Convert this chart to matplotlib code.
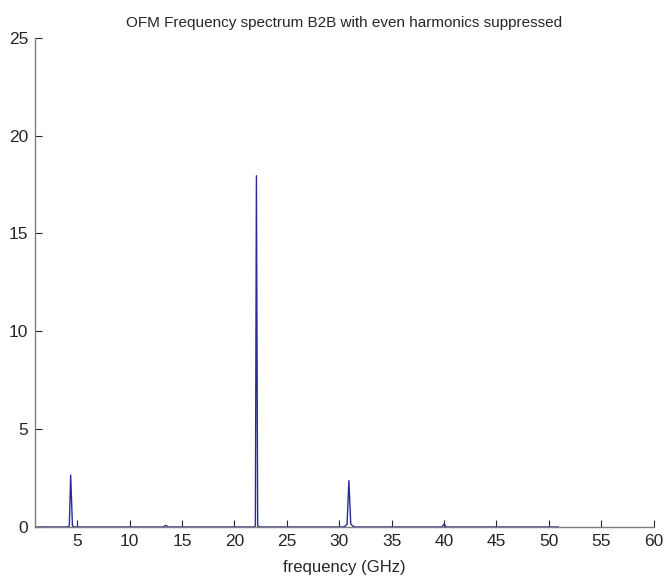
#!/usr/bin/env python3
"""OFM frequency spectrum (B2B, even harmonics suppressed) - redraw."""
import matplotlib
matplotlib.use('Agg')
import matplotlib.pyplot as plt

# spectrum samples (GHz, linear power)
freq = [1.0, 4.05, 4.25, 4.38, 4.55, 4.75, 13.2, 13.45, 13.7,
        21.85, 22.0, 22.1, 22.22, 22.4, 30.35, 30.6, 30.75, 30.92,
        31.1, 31.3, 31.5, 39.8, 40.0, 40.2, 50.9]
power = [0.0, 0.0, 0.05, 2.65, 0.05, 0.0, 0.0, 0.08, 0.0,
         0.0, 0.05, 17.95, 0.05, 0.0, 0.0, 0.05, 0.15, 2.37,
         0.15, 0.05, 0.0, 0.0, 0.15, 0.0, 0.0]

xticks = [5, 10, 15, 20, 25, 30, 35, 40, 45, 50, 55, 60]
yticks = [0, 5, 10, 15, 20, 25]

plt.rcParams['font.family'] = ['Liberation Sans', 'DejaVu Sans']

fig = plt.figure(figsize=(6.65, 5.81), dpi=100)
ax = fig.add_axes([0.053, 0.093, 0.930, 0.842])
ax.plot(freq, power, color='#2a2a9c', linewidth=1.0)

ax.set_xlim(1, 60)
ax.set_ylim(0, 25)
ax.set_xticks(xticks)
ax.set_yticks(yticks)
ax.tick_params(direction='in', length=5, width=0.8, labelsize=12.5,
               colors='#262626', pad=5)
for side in ('top', 'right'):
    ax.spines[side].set_visible(False)
for side in ('left', 'bottom'):
    ax.spines[side].set_color('#7f7f7f')
    ax.spines[side].set_linewidth(1.0)

ax.set_xlabel('frequency (GHz)', fontsize=12, color='#262626', labelpad=8)
ax.set_title('OFM Frequency spectrum B2B with even harmonics suppressed',
             fontsize=11, color='#262626', pad=8)

fig.savefig('out.png', dpi=100)
plt.close(fig)
